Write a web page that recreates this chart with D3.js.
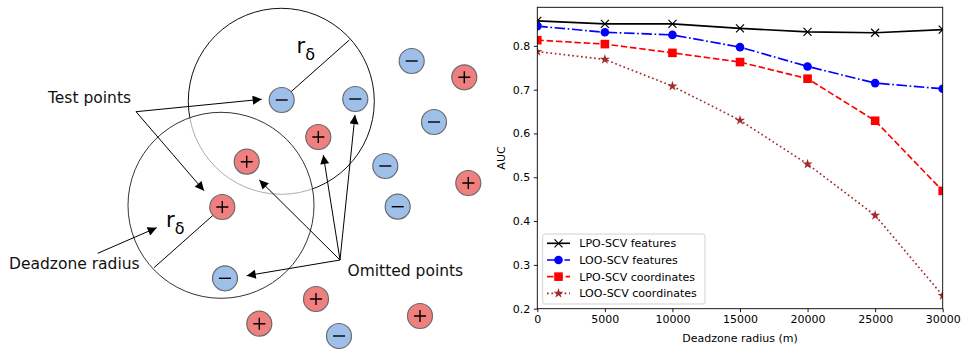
<!DOCTYPE html>
<html>
<head>
<meta charset="utf-8">
<script src="https://cdn.jsdelivr.net/npm/d3@7"></script>
<style>
  body { margin: 0; background: #fff; }
  svg text { font-family: "DejaVu Sans", sans-serif; }
</style>
</head>
<body>
<div id="fig"></div>
<script>
// chart data
const radii = [0, 5000, 10000, 15000, 20000, 25000, 30000];
const lpoFeatures = [0.857, 0.850, 0.850, 0.840, 0.832, 0.830, 0.837];
const looFeatures = [0.845, 0.831, 0.825, 0.797, 0.753, 0.715, 0.702];
const lpoCoords = [0.813, 0.804, 0.784, 0.763, 0.725, 0.629, 0.469];
const looCoords = [0.787, 0.769, 0.708, 0.630, 0.530, 0.413, 0.230];
const seriesNames = ["LPO-SCV features", "LOO-SCV features", "LPO-SCV coordinates", "LOO-SCV coordinates"];
const xTicks = [0, 5000, 10000, 15000, 20000, 25000, 30000];
const yTicks = [0.2, 0.3, 0.4, 0.5, 0.6, 0.7, 0.8];

// diagram content
const plusPoints = [[464.3, 77.3], [318.3, 137], [246.7, 161.7], [468.3, 183], [222.3, 207], [316, 299], [259.3, 323.7], [420, 316]];
const minusPoints = [[281.7, 100], [355.3, 99], [411.7, 61], [434, 122], [385.3, 166], [397.7, 206.7], [225, 278.3], [339, 336]];

const W = 963, H = 349;
const svg = d3.select("#fig").append("svg").attr("width", W).attr("height", H);

svg.append("defs").append("marker")
    .attr("id", "arrow")
    .attr("viewBox", "0 0 10 10")
    .attr("refX", 10).attr("refY", 5)
    .attr("markerWidth", 11).attr("markerHeight", 9)
    .attr("markerUnits", "userSpaceOnUse")
    .attr("orient", "auto")
    .append("path").attr("d", "M0,0 L10,5 L0,10 Z").attr("fill", "#000");

// ---------- left diagram ----------
const dg = svg.append("g");

// upper dead zone circle, then lower one with a translucent fill that greys the overlap
dg.append("circle").attr("cx", 281.3).attr("cy", 101.3).attr("r", 93)
    .attr("fill", "none").attr("stroke", "#111").attr("stroke-width", 1);
dg.append("circle").attr("cx", 221).attr("cy", 205.3).attr("r", 93)
    .attr("fill", "#fff").attr("fill-opacity", 0.65).attr("stroke", "#333").attr("stroke-width", 1);

// radius lines
dg.append("line").attr("x1", 281.7).attr("y1", 100).attr("x2", 349.3).attr("y2", 40)
    .attr("stroke", "#000").attr("stroke-width", 1);
dg.append("line").attr("x1", 222.3).attr("y1", 207).attr("x2", 154).attr("y2", 267.7)
    .attr("stroke", "#000").attr("stroke-width", 1);

// arrows
const arrows = [
    [136, 111.7, 261.7, 99.3],
    [136, 111.7, 204, 190.7],
    [97.7, 253.3, 156.7, 227.7],
    [340, 260, 259.3, 180],
    [340, 260, 323.3, 155],
    [340, 260, 355, 115],
    [340, 260, 246.7, 275.7]
];
dg.selectAll(".arr").data(arrows).join("line")
    .attr("class", "arr")
    .attr("x1", d => d[0]).attr("y1", d => d[1])
    .attr("x2", d => d[2]).attr("y2", d => d[3])
    .attr("stroke", "#000").attr("stroke-width", 1)
    .attr("marker-end", "url(#arrow)");

// points
const pr = 12.5;
const plusG = dg.selectAll(".pp").data(plusPoints).join("g").attr("class", "pp")
    .attr("transform", d => `translate(${d[0]},${d[1]})`);
plusG.append("circle").attr("r", pr).attr("fill", "#f07f7f").attr("stroke", "#6b6b6b").attr("stroke-width", 1.2);
plusG.append("path").attr("d", "M-6,0 H6 M0,-6 V6").attr("stroke", "#000").attr("stroke-width", 1.4);

const minusG = dg.selectAll(".mp").data(minusPoints).join("g").attr("class", "mp")
    .attr("transform", d => `translate(${d[0]},${d[1]})`);
minusG.append("circle").attr("r", pr).attr("fill", "#9ebfea").attr("stroke", "#6b6b6b").attr("stroke-width", 1.2);
minusG.append("path").attr("d", "M-6,0 H6").attr("stroke", "#000").attr("stroke-width", 1.4);

// labels
const lab = (x, y, t) => dg.append("text").attr("x", x).attr("y", y)
    .attr("font-size", 15.5).attr("fill", "#111").text(t);
lab(48, 103.3, "Test points");
lab(9, 269, "Deadzone radius");
lab(347.5, 276, "Omitted points");

function rDelta(x, y) {
    const t = dg.append("text").attr("x", x).attr("y", y).attr("font-size", 21).attr("fill", "#000");
    t.append("tspan").text("r");
    t.append("tspan").attr("dy", 7).attr("font-size", 16).text("δ");
}
rDelta(296.5, 53.3);
rDelta(166, 226.7);

// ---------- right chart ----------
const x = d3.scaleLinear().domain([0, 30000]).range([537.3, 942.7]);
const y = d3.scaleLinear().domain([0.2, 0.888]).range([308.7, 7.3]);

const cg = svg.append("g");

const series = [
    { name: seriesNames[0], values: lpoFeatures, color: "#000000", dash: null, marker: "x" },
    { name: seriesNames[1], values: looFeatures, color: "#0000ff", dash: "10.5,2.6,1.7,2.6", marker: "o" },
    { name: seriesNames[2], values: lpoCoords, color: "#ff0000", dash: "6.5,2.8", marker: "s" },
    { name: seriesNames[3], values: looCoords, color: "#a52a2a", dash: "1.7,2.7", marker: "*" }
];

const clip = svg.append("defs").append("clipPath").attr("id", "plotclip")
    .append("rect").attr("x", 537.3).attr("y", 7.3).attr("width", 405.4).attr("height", 301.4);

const line = d3.line().x((d, i) => x(radii[i])).y(d => y(d));

function drawMarker(g, kind, color) {
    if (kind === "x") {
        g.append("path").attr("d", "M-4,-4 L4,4 M-4,4 L4,-4").attr("stroke", color).attr("stroke-width", 1.2).attr("fill", "none");
    } else if (kind === "o") {
        g.append("circle").attr("r", 4.3).attr("fill", color);
    } else if (kind === "s") {
        g.append("rect").attr("x", -4.3).attr("y", -4.3).attr("width", 8.6).attr("height", 8.6).attr("fill", color);
    } else {
        g.append("path").attr("d", d3.symbol().type(d3.symbolStar).size(32)()).attr("fill", color);
    }
}

const plot = cg.append("g").attr("clip-path", "url(#plotclip)");
series.forEach(s => {
    plot.append("path").datum(s.values)
        .attr("d", line)
        .attr("fill", "none")
        .attr("stroke", s.color)
        .attr("stroke-width", 1.65)
        .attr("stroke-dasharray", s.dash);
    s.values.forEach((v, i) => {
        drawMarker(plot.append("g").attr("transform", `translate(${x(radii[i])},${y(v)})`), s.marker, s.color);
    });
});

// frame
cg.append("rect").attr("x", 537.3).attr("y", 7.3).attr("width", 405.4).attr("height", 301.4)
    .attr("fill", "none").attr("stroke", "#000").attr("stroke-width", 0.9);

// axes
const xAxis = cg.append("g").attr("transform", "translate(0,308.7)")
    .call(d3.axisBottom(x).tickValues(xTicks).tickFormat(d3.format("d")).tickSize(3.5).tickPadding(3.5));
const yAxis = cg.append("g").attr("transform", "translate(537.3,0)")
    .call(d3.axisLeft(y).tickValues(yTicks).tickFormat(d3.format(".1f")).tickSize(3.5).tickPadding(3.5));
[xAxis, yAxis].forEach(a => {
    a.select(".domain").remove();
    a.selectAll("text").attr("font-size", 11).attr("font-family", "DejaVu Sans").attr("fill", "#000");
    a.selectAll("line").attr("stroke", "#000").attr("stroke-width", 0.9);
});

cg.append("text").attr("x", 740).attr("y", 342).attr("text-anchor", "middle")
    .attr("font-size", 11).attr("fill", "#000").text("Deadzone radius (m)");
cg.append("text").attr("transform", "translate(505,158) rotate(-90)").attr("text-anchor", "middle")
    .attr("font-size", 11).attr("fill", "#000").text("AUC");

// legend
const lg = cg.append("g");
lg.append("rect").attr("x", 542.7).attr("y", 234).attr("width", 162.3).attr("height", 70)
    .attr("rx", 2.5).attr("fill", "#fff").attr("fill-opacity", 0.8)
    .attr("stroke", "#cccccc").attr("stroke-width", 0.9);
series.forEach((s, i) => {
    const ly = 243.3 + i * 16.67;
    lg.append("line").attr("x1", 547).attr("x2", 570).attr("y1", ly).attr("y2", ly)
        .attr("stroke", s.color).attr("stroke-width", 1.65).attr("stroke-dasharray", s.dash);
    drawMarker(lg.append("g").attr("transform", `translate(558.5,${ly})`), s.marker, s.color);
    lg.append("text").attr("x", 579.3).attr("y", ly + 4).attr("font-size", 11).attr("fill", "#000").text(s.name);
});
</script>
</body>
</html>
